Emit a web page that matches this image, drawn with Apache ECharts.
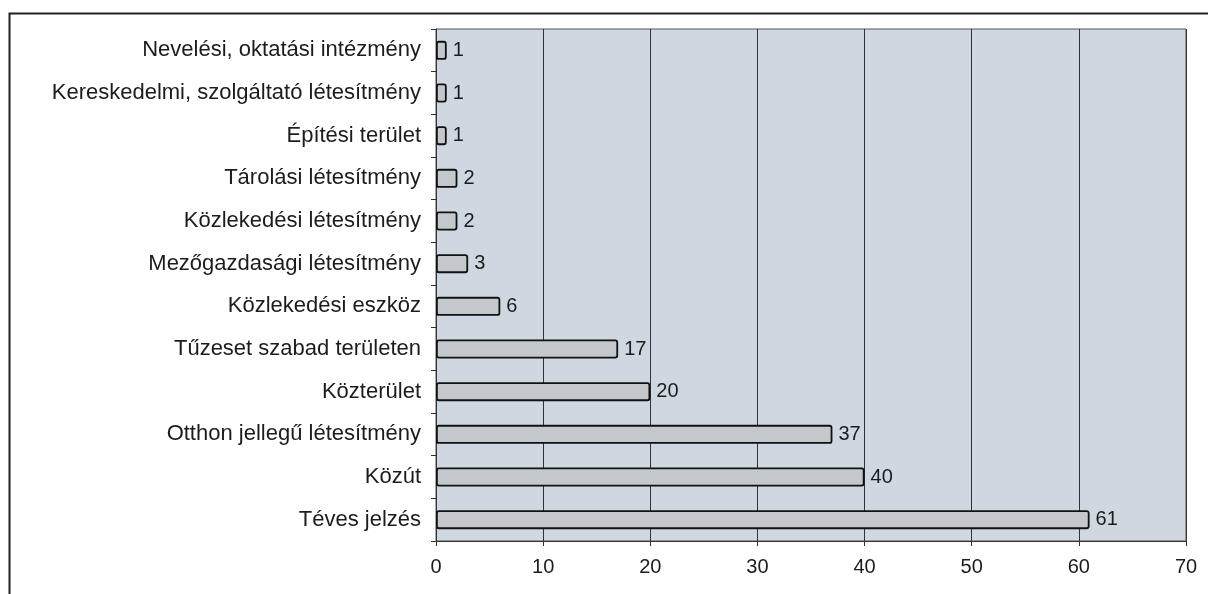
<!DOCTYPE html>
<html>
<head>
<meta charset="utf-8">
<script src="https://cdn.jsdelivr.net/npm/echarts@6/dist/echarts.min.js"></script>
<style>
  html, body { margin: 0; padding: 0; background: #fff; }
  #chart { width: 1208px; height: 594px; }
</style>
</head>
<body>
<div id="chart"></div>
<script>
// data, top to bottom as in the picture
const categories = [
  'Nevelési, oktatási intézmény',
  'Kereskedelmi, szolgáltató létesítmény',
  'Építési terület',
  'Tárolási létesítmény',
  'Közlekedési létesítmény',
  'Mezőgazdasági létesítmény',
  'Közlekedési eszköz',
  'Tűzeset szabad területen',
  'Közterület',
  'Otthon jellegű létesítmény',
  'Közút',
  'Téves jelzés'
]
const values = [1, 1, 1, 2, 2, 3, 6, 17, 20, 37, 40, 61]
const xTicks = [0, 10, 20, 30, 40, 50, 60, 70]

const chart = echarts.init(document.getElementById('chart'))
const font = '"Liberation Sans", Arial, sans-serif'

const option = {
  animation: false,
  grid: {
    top: 29,
    left: 436,
    right: 22,
    bottom: 53,
    show: true,
    backgroundColor: '#cfd7e0',
    borderColor: '#555',
    borderWidth: 1
  },
  graphic: [
    {
      type: 'rect',
      shape: { x: 9.5, y: 13.5, width: 1220, height: 600 },
      style: { fill: 'none', stroke: '#222', lineWidth: 2 },
      silent: true
    }
  ],
  xAxis: {
    type: 'value',
    min: xTicks[0],
    max: xTicks[xTicks.length - 1],
    interval: 10,
    axisLine: { show: true, lineStyle: { color: '#333', width: 1 } },
    axisTick: { show: true, length: 5, lineStyle: { color: '#333' } },
    axisLabel: {
      color: '#1c1c1c',
      fontSize: 20,
      fontFamily: font,
      margin: 16
    },
    splitLine: { show: true, lineStyle: { color: '#333', width: 1 } }
  },
  yAxis: {
    type: 'category',
    data: categories,
    inverse: true,
    axisLine: { show: true, lineStyle: { color: '#333', width: 1 } },
    axisTick: { show: true, length: 5, lineStyle: { color: '#333' } },
    axisLabel: {
      color: '#1c1c1c',
      fontSize: 22,
      fontFamily: font,
      margin: 15
    },
    splitLine: { show: false }
  },
  series: [
    {
      type: 'bar',
      data: values,
      barWidth: 19,
      itemStyle: {
        color: '#c4c8cc',
        borderColor: '#111',
        borderWidth: 1.8,
        borderRadius: 2
      },
      label: {
        show: true,
        position: 'right',
        distance: 6,
        color: '#1c1c1c',
        fontSize: 20,
        fontFamily: font
      }
    }
  ]
}
chart.setOption(option)
</script>
</body>
</html>
